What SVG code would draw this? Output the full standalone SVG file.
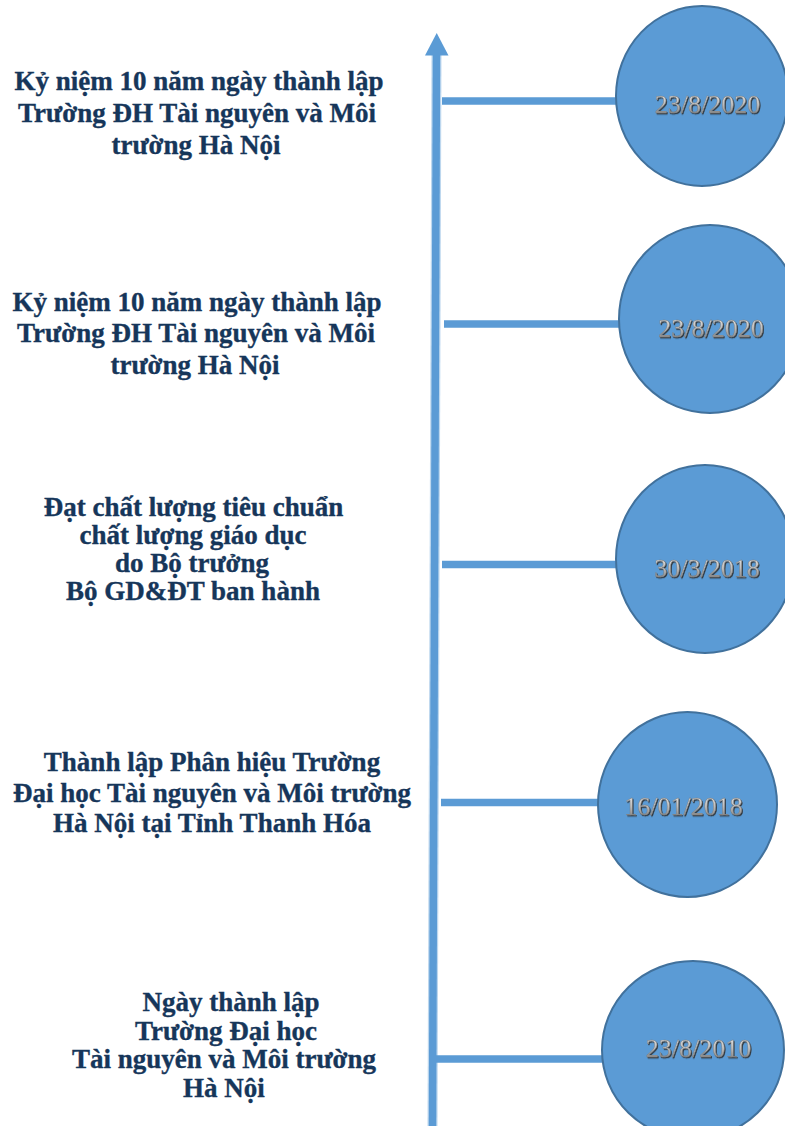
<svg xmlns="http://www.w3.org/2000/svg" width="785" height="1126" viewBox="0 0 785 1126">
<defs>
<linearGradient id="dg" x1="0" y1="0" x2="0" y2="1">
<stop offset="0" stop-color="#efefef"/>
<stop offset="0.5" stop-color="#bdbdbd"/>
<stop offset="1" stop-color="#6f6f6f"/>
</linearGradient>
<filter id="sh" x="-10%" y="-20%" width="120%" height="150%">
<feDropShadow dx="1" dy="1.2" stdDeviation="0.5" flood-color="#2e2e2e" flood-opacity="0.9"/>
</filter>
</defs>
<style>
.lbl{font-family:"Liberation Serif","Times New Roman",serif;font-weight:bold;font-size:27px;fill:#16365a;stroke:#16365a;stroke-width:0.35;text-anchor:middle}
.date{font-family:"Liberation Serif","Times New Roman",serif;font-size:26px;fill:url(#dg);stroke:#7a7a7a;stroke-width:0.4;text-anchor:middle;filter:url(#sh)}
.node{fill:#5b9bd5;stroke:#41719c;stroke-width:2}
.conn{stroke:#5b9bd5;stroke-width:7.5;fill:none}
</style>
<g id="connectors">
<line x1="436.5" y1="52" x2="432.5" y2="1126" stroke="#bdd7ee" stroke-width="10"/>
<line x1="436.5" y1="52" x2="432.5" y2="1126" class="conn"/>
<polygon points="436.7,33 425,55.5 448.5,55.5" fill="#5b9bd5"/>
<line x1="442" y1="101" x2="617" y2="101" class="conn"/>
<line x1="444" y1="324" x2="620" y2="324" class="conn"/>
<line x1="442" y1="564.5" x2="617" y2="564.5" class="conn"/>
<line x1="441" y1="802.5" x2="599" y2="802.5" class="conn"/>
<line x1="436" y1="1059" x2="603" y2="1059" class="conn"/>
</g>
<g id="node1">
<ellipse cx="702" cy="96" rx="86" ry="90" class="node"/>
<text x="707.5" y="113" class="date" font-size="27">23/8/2020</text>
<text class="lbl"><tspan x="199" y="90">Kỷ niệm 10 năm ngày thành lập</tspan><tspan x="197" y="122">Trường ĐH Tài nguyên và Môi</tspan><tspan x="196" y="154">trường Hà Nội</tspan></text>
</g>
<g id="node2">
<ellipse cx="710" cy="319" rx="91" ry="94" class="node"/>
<text x="711" y="337" class="date" font-size="27">23/8/2020</text>
<text class="lbl"><tspan x="197" y="311">Kỷ niệm 10 năm ngày thành lập</tspan><tspan x="196" y="342">Trường ĐH Tài nguyên và Môi</tspan><tspan x="195" y="374">trường Hà Nội</tspan></text>
</g>
<g id="node3">
<ellipse cx="705" cy="559" rx="89" ry="94" class="node"/>
<text x="707" y="577" class="date" font-size="27">30/3/2018</text>
<text class="lbl"><tspan x="193.5" y="516">Đạt chất lượng tiêu chuẩn</tspan><tspan x="193" y="544">chất lượng giáo dục</tspan><tspan x="192" y="572">do Bộ trưởng</tspan><tspan x="193" y="600">Bộ GD&amp;ĐT ban hành</tspan></text>
</g>
<g id="node4">
<ellipse cx="687.5" cy="804.5" rx="89.5" ry="92.5" class="node"/>
<text x="683.5" y="815" class="date" font-size="24">16/01/2018</text>
<text class="lbl"><tspan x="212" y="771">Thành lập Phân hiệu Trường</tspan><tspan x="212" y="802">Đại học Tài nguyên và Môi trường</tspan><tspan x="212" y="832">Hà Nội tại Tỉnh Thanh Hóa</tspan></text>
</g>
<g id="node5">
<ellipse cx="693" cy="1050" rx="91" ry="89" class="node"/>
<text x="698.5" y="1057" class="date" font-size="24">23/8/2010</text>
<text class="lbl"><tspan x="231" y="1011">Ngày thành lập</tspan><tspan x="226" y="1040">Trường Đại học</tspan><tspan x="224" y="1068">Tài nguyên và Môi trường</tspan><tspan x="224" y="1097">Hà Nội</tspan></text>
</g>
</svg>
